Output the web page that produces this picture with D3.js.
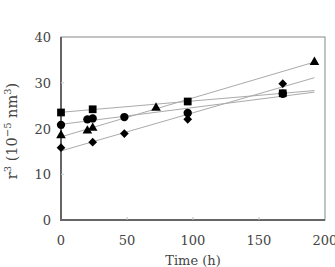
<!DOCTYPE html>
<html lang="en">
<head>
<meta charset="UTF-8">
<title>r3 vs time</title>
<script src="https://d3js.org/d3.v7.min.js"></script>
<style>
    body { margin: 0; background: #fff; }
    svg text { font-family: "DejaVu Serif", "Liberation Serif", serif; fill: #444; }
</style>
</head>
<body>
<svg width="335" height="267"></svg>
<script>
    // time (h) and r^3 (10^-5 nm^3) per series
    var squareT = [0, 24, 96, 168];
    var squareV = [23.5, 24.2, 25.9, 27.7];
    var circleT = [0, 20, 24, 48, 96, 168];
    var circleV = [20.8, 22.0, 22.2, 22.5, 23.4, 27.6];
    var triangleT = [0, 20, 24, 72, 192];
    var triangleV = [18.5, 19.5, 20.1, 24.5, 34.5];
    var diamondT = [0, 24, 48, 96, 168];
    var diamondV = [15.8, 17.0, 18.9, 22.0, 29.8];
    var xTicks = [0, 50, 100, 150, 200];
    var yTicks = [0, 10, 20, 30, 40];
    var lineEnd = 192;

    // wide diamond (rotated square)
    var wideDiamond = {
        draw: function (ctx, size) {
            var r = Math.sqrt(size / 2);
            ctx.moveTo(0, -r); ctx.lineTo(r, 0); ctx.lineTo(0, r); ctx.lineTo(-r, 0); ctx.closePath();
        }
    };

    var series = [
        {sym: d3.symbolSquare, size: 60, t: squareT, v: squareV},
        {sym: d3.symbolCircle, size: 55, t: circleT, v: circleV},
        {sym: d3.symbolTriangle, size: 40, t: triangleT, v: triangleV},
        {sym: wideDiamond, size: 38, t: diamondT, v: diamondV}
    ];

    var svg = d3.select("svg");
    var x = d3.scaleLinear().domain([0, 200]).range([61, 325]);
    var y = d3.scaleLinear().domain([0, 40]).range([220, 37]);

    // frame
    svg.append("rect")
        .attr("x", x(0)).attr("y", y(40))
        .attr("width", x(200) - x(0)).attr("height", y(0) - y(40))
        .attr("fill", "none").attr("stroke", "#888").attr("stroke-width", 1);
    svg.append("path")
        .attr("d", "M" + x(0) + "," + y(40) + "V" + y(0) + "H" + x(200))
        .attr("fill", "none").attr("stroke", "#666").attr("stroke-width", 2);

    // small inner ticks
    svg.append("g").selectAll("line").data(xTicks.slice(1, 4)).enter().append("line")
        .attr("x1", x).attr("x2", x).attr("y1", y(0)).attr("y2", y(0) - 3)
        .attr("stroke", "#bbb");
    svg.append("g").selectAll("line").data(yTicks.slice(1, 4)).enter().append("line")
        .attr("x1", x(0)).attr("x2", x(0) + 3).attr("y1", y).attr("y2", y)
        .attr("stroke", "#ccc");

    svg.append("g").selectAll("text").data(xTicks).enter().append("text")
        .attr("x", x).attr("y", 245)
        .attr("text-anchor", "middle").attr("font-size", 13)
        .text(function (d) { return d; });
    svg.append("g").selectAll("text").data(yTicks).enter().append("text")
        .attr("x", 51).attr("y", function (d) { return y(d) + 5; })
        .attr("text-anchor", "end").attr("font-size", 13)
        .text(function (d) { return d; });

    svg.append("text")
        .attr("x", 193).attr("y", 265)
        .attr("text-anchor", "middle").attr("font-size", 13)
        .text("Time (h)");

    var yl = svg.append("text")
        .attr("transform", "translate(17,131) rotate(-90)")
        .attr("text-anchor", "middle").attr("font-size", 14.5);
    yl.append("tspan").text("r");
    yl.append("tspan").attr("dy", -6).attr("font-size", 10).text("3");
    yl.append("tspan").attr("dy", 6).text(" (10");
    yl.append("tspan").attr("dy", -6).attr("font-size", 10).text("\u22125");
    yl.append("tspan").attr("dy", 6).text(" nm");
    yl.append("tspan").attr("dy", -6).attr("font-size", 10).text("3");
    yl.append("tspan").attr("dy", 6).text(")");

    // least squares trend lines
    series.forEach(function (s) {
        var mt = d3.mean(s.t), mv = d3.mean(s.v);
        var sxy = d3.sum(s.t, function (t, i) { return (t - mt) * (s.v[i] - mv); });
        var sxx = d3.sum(s.t, function (t) { return (t - mt) * (t - mt); });
        var b = sxy / sxx, a = mv - b * mt;
        svg.append("line")
            .attr("x1", x(0)).attr("y1", y(a))
            .attr("x2", x(lineEnd)).attr("y2", y(a + b * lineEnd))
            .attr("stroke", "#aaa").attr("stroke-width", 1);
    });

    series.forEach(function (s) {
        svg.append("g").selectAll("path").data(s.t).enter().append("path")
            .attr("d", d3.symbol().type(s.sym).size(s.size))
            .attr("transform", function (t, i) {
                return "translate(" + x(t) + "," + y(s.v[i]) + ")";
            })
            .attr("fill", "#000");
    });
</script>
</body>
</html>
